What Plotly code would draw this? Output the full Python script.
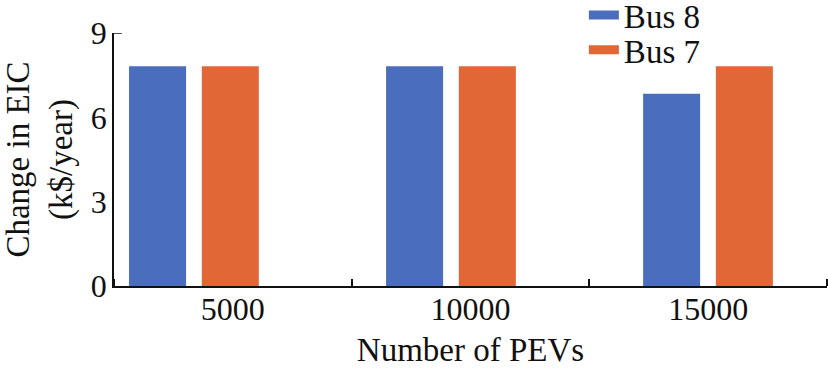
import plotly.graph_objects as go

categories = ["5000", "10000", "15000"]
bus8 = [7.82, 7.82, 6.84]
bus7 = [7.82, 7.82, 7.82]
y_ticks = [0, 3, 6, 9]

BLUE = "#4A6DBD"
ORANGE = "#E26736"
FONT = "Liberation Serif, Times New Roman, serif"

fig = go.Figure()
fig.add_trace(go.Bar(x=categories, y=bus8, name="Bus 8", marker=dict(color=BLUE, line=dict(width=0)),
                     xaxis="x2", yaxis="y", showlegend=False, legendgroup="b8"))
fig.add_trace(go.Bar(x=categories, y=bus7, name="Bus 7", marker=dict(color=ORANGE, line=dict(width=0)),
                     xaxis="x2", yaxis="y", showlegend=False, legendgroup="b7"))
# legend entries drawn as wide swatches
fig.add_trace(go.Scatter(x=[None], y=[None], mode="lines", name="Bus 8",
                         line=dict(color=BLUE, width=9), legendgroup="b8", legend="legend"))
fig.add_trace(go.Scatter(x=[None], y=[None], mode="lines", name="Bus 7",
                         line=dict(color=ORANGE, width=9), legendgroup="b7", legend="legend2"))

fig.update_layout(
    width=828, height=371,
    margin=dict(l=114, r=1, t=33, b=85, autoexpand=False),
    paper_bgcolor="white", plot_bgcolor="white",
    font=dict(family=FONT, size=32, color="#111111"),
    barmode="group", bargap=0.434, bargroupgap=0.216,
    xaxis=dict(
        range=[-0.5, len(categories) - 0.5],
        tickmode="array", tickvals=list(range(len(categories))), ticktext=categories,
        ticks="", showgrid=False, zeroline=False,
        showline=True, linecolor="#111111", linewidth=1.5,
        minor=dict(tick0=0.5, dtick=1, ticks="inside", ticklen=7, tickwidth=1.5, tickcolor="#111111", showgrid=False),
        title=dict(text="Number of PEVs", font=dict(size=33), standoff=12),
        ticklabelstandoff=-6,
    ),
    xaxis2=dict(type="category", overlaying="x", visible=False, range=[-0.311, 2.463]),
    yaxis=dict(
        range=[0, 9], tickvals=y_ticks, ticks="", showgrid=False, zeroline=False,
        showline=True, linecolor="#111111", linewidth=1.5,
        ticklabelstandoff=-1,
        title=dict(text="Change in EIC<br>(k$/year)", font=dict(size=33), standoff=21),
    ),
    legend=dict(x=0.659, y=1.182, xanchor="left", yanchor="top", bgcolor="rgba(0,0,0,0)",
                font=dict(size=33)),
    legend2=dict(x=0.659, y=1.044, xanchor="left", yanchor="top", bgcolor="rgba(0,0,0,0)",
                 font=dict(size=33)),
    shapes=[dict(type="line", xref="x domain", yref="y", x0=0, x1=0.011, y0=9, y1=9,
                 line=dict(color="#111111", width=1.5))],
)

fig.write_html("out.html", config={"displayModeBar": False},
               post_script="document.body.style.margin='0';")
